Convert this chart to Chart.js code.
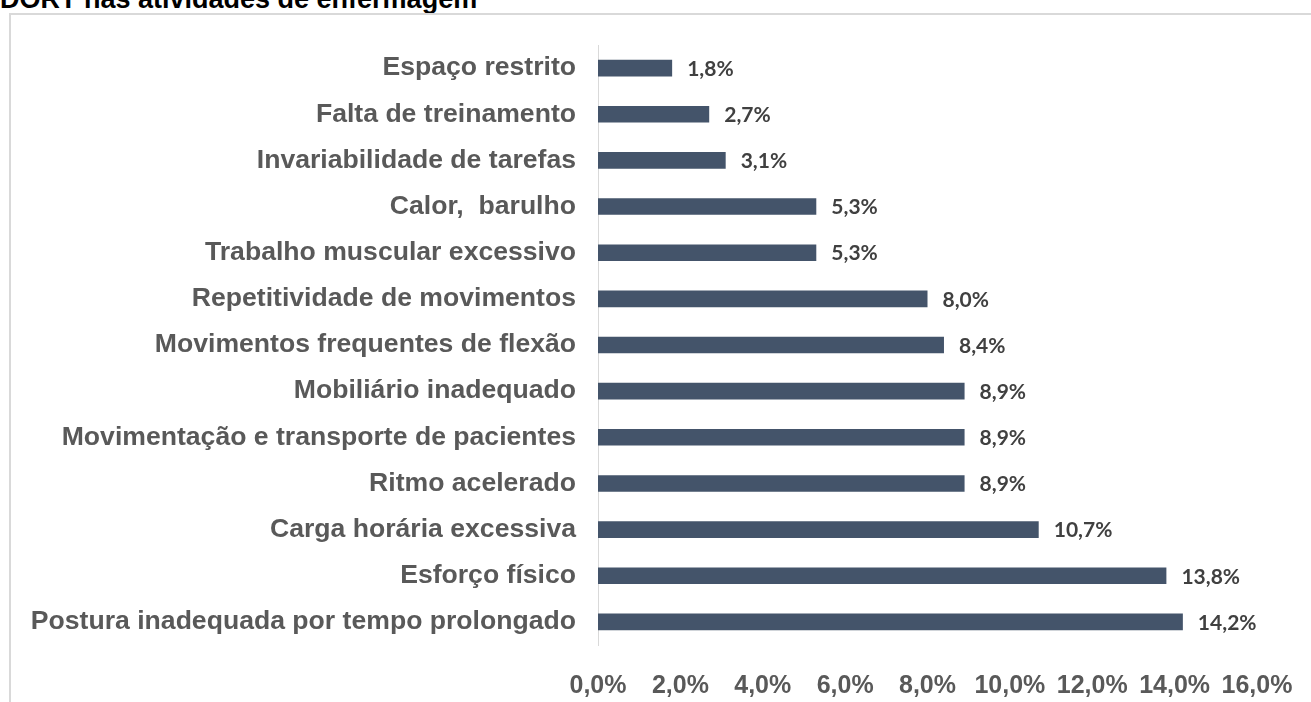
<!DOCTYPE html>
<html>
<head>
<meta charset="utf-8">
<script src="https://cdn.jsdelivr.net/npm/chart.js@4"></script>
<style>
  html, body { margin: 0; padding: 0; background: #fff; overflow: hidden; }
  #titulo {
    position: absolute; left: 0; top: -14px;
    font: bold 27px "Liberation Sans", Arial, sans-serif; line-height: 27px;
    color: #000; white-space: nowrap;
  }
  #caixa {
    position: absolute; left: 9px; top: 13px; width: 1320px; height: 720px;
    border: 2px solid #d9d9d9; box-sizing: border-box;
  }
  #grafico { position: absolute; left: 0; top: 0; }
</style>
</head>
<body>
<div id="titulo">DORT nas atividades de enfermagem</div>
<div id="caixa"></div>
<canvas id="grafico" width="1311" height="702"></canvas>
<script>
// categorias (de cima para baixo) e percentuais
const categorias = [
  'Espaço restrito',
  'Falta de treinamento',
  'Invariabilidade de tarefas',
  'Calor,  barulho',
  'Trabalho muscular excessivo',
  'Repetitividade de movimentos',
  'Movimentos frequentes de flexão',
  'Mobiliário inadequado',
  'Movimentação e transporte de pacientes',
  'Ritmo acelerado',
  'Carga horária excessiva',
  'Esforço físico',
  'Postura inadequada por tempo prolongado'
];
const percentuais = [1.8, 2.7, 3.1, 5.3, 5.3, 8.0, 8.4, 8.9, 8.9, 8.9, 10.7, 13.8, 14.2];

// eixo x: 0% a 16% de 2 em 2
const eixoMin = 0;
const eixoMax = 16;
const eixoPasso = 2;

// formato brasileiro com virgula
const formatar = (v) => v.toFixed(1).replace('.', ',') + '%';

// plugin simples para escrever o valor ao lado de cada barra
const rotulosBarras = {
  id: 'rotulosBarras',
  afterDatasetsDraw(chart) {
    const ctx = chart.ctx;
    const meta = chart.getDatasetMeta(0);
    ctx.save();
    ctx.font = 'bold 21px Lato, "Open Sans", sans-serif';
    ctx.fillStyle = '#404040';
    ctx.textAlign = 'left';
    ctx.textBaseline = 'middle';
    meta.data.forEach((barra, i) => {
      ctx.fillText(formatar(percentuais[i]), barra.x + 15, barra.y + 1);
    });
    ctx.restore();
  }
};

const ctx = document.getElementById('grafico').getContext('2d');
const grafico = new Chart(ctx, {
  type: 'bar',
  data: {
    labels: categorias,
    datasets: [{
      data: percentuais,
      backgroundColor: '#44546a',
      borderWidth: 0,
      barPercentage: 0.72,
      categoryPercentage: 0.5
    }]
  },
  options: {
    indexAxis: 'y',
    responsive: false,
    animation: false,
    devicePixelRatio: 1,
    layout: { padding: { top: 45, right: 54, left: 0, bottom: 0 } },
    plugins: {
      legend: { display: false },
      tooltip: { enabled: false }
    },
    scales: {
      x: {
        min: eixoMin,
        max: eixoMax,
        grid: { display: false, drawTicks: false },
        border: { display: false },
        ticks: {
          stepSize: eixoPasso,
          padding: 26,
          color: '#595959',
          font: { family: '"Liberation Sans", Arial, sans-serif', size: 25, weight: 'bold' },
          maxRotation: 0,
          autoSkip: false,
          callback: (v) => formatar(v)
        },
        // altura fixa e sem folga extra para o ultimo rotulo
        afterFit: (escala) => {
          escala.height = 57;
          escala.paddingLeft = 0;
          escala.paddingRight = 0;
        }
      },
      y: {
        grid: { display: false, drawTicks: false },
        border: { display: true, color: '#d9d9d9', width: 1 },
        ticks: {
          padding: 22,
          color: '#595959',
          font: { family: '"Liberation Sans", Arial, sans-serif', size: 26.6, weight: 'bold' }
        },
        afterFit: (escala) => { escala.width = 598; }
      }
    }
  },
  plugins: [rotulosBarras]
});
</script>
</body>
</html>
